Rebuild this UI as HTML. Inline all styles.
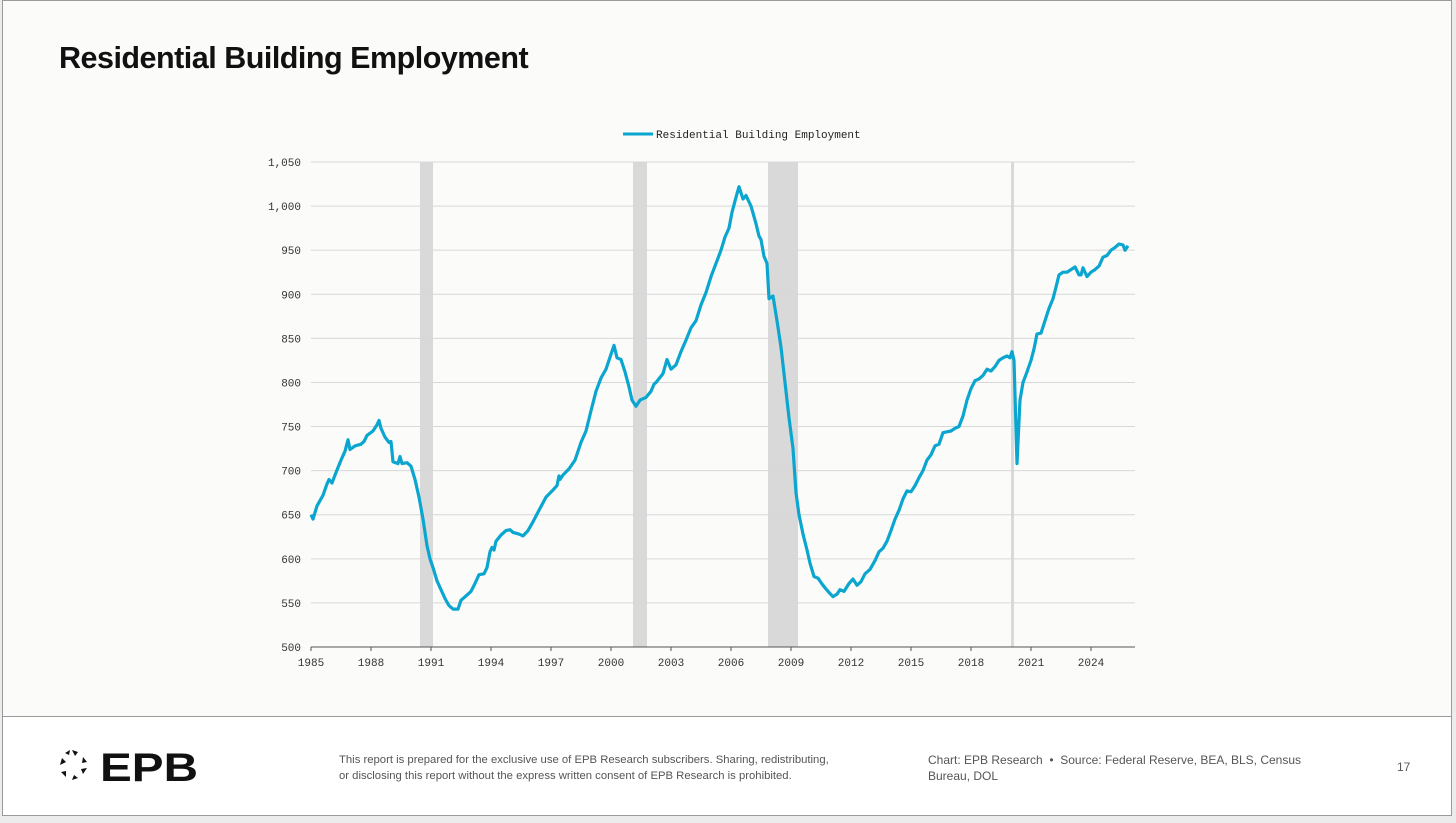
<!DOCTYPE html>
<html><head><meta charset="utf-8"><style>
html,body{margin:0;padding:0;background:#ececec;width:1456px;height:823px;overflow:hidden;font-family:"Liberation Sans",sans-serif}
#slide{position:absolute;left:2px;top:0;width:1450px;height:816px;background:#fbfbf9;border:1px solid #9a9a9a;box-sizing:border-box;overflow:hidden}
#footer{position:absolute;left:0;top:715px;width:100%;height:99px;background:#fff;border-top:1px solid #9a9a9a}
h1{position:absolute;left:56px;top:40px;margin:0;font-size:30.5px;font-weight:bold;color:#111;letter-spacing:-0.5px}
.ft{position:absolute;font-size:12px;color:#555;line-height:16px}
</style></head><body>
<div id="slide">
<h1>Residential Building Employment</h1>
<svg id="chart" width="1450" height="700" style="position:absolute;left:-2px;top:0"></svg>
<div id="footer">
 <svg style="position:absolute;left:53px;top:30px" width="150" height="40">
  <g fill="#111">
   <polygon points="16,3 22,5 19,9"/><polygon points="27,10 31,15 26,16"/><polygon points="31,21 27,27 25,22"/>
   <polygon points="22,31 16,33 18,28"/><polygon points="10,30 5,25 10,24"/><polygon points="4,18 6,11 10,15"/>
   <polygon points="9,6 14,3 13,8"/>
  </g>
  <text x="44" y="34" font-family="Liberation Sans" font-weight="bold" font-size="40" fill="#111" textLength="98" lengthAdjust="spacingAndGlyphs">EPB</text>
 </svg>
 <div class="ft" style="left:336px;top:35px;white-space:nowrap;font-size:11.3px">This report is prepared for the exclusive use of EPB Research subscribers. Sharing, redistributing,<br>or disclosing this report without the express written consent of EPB Research is prohibited.</div>
 <div class="ft" style="left:925px;top:35px;width:400px">Chart: EPB Research &nbsp;•&nbsp; Source: Federal Reserve, BEA, BLS, Census Bureau, DOL</div>
 <div class="ft" style="left:1394px;top:42px">17</div>
</div>
</div>
<script>
const yTicks=[500,550,600,650,700,750,800,850,900,950,1000,1050];
const yTickLabels=["500","550","600","650","700","750","800","850","900","950","1,000","1,050"];
const xTicks=[1985,1988,1991,1994,1997,2000,2003,2006,2009,2012,2015,2018,2021,2024];
const recessionStarts=[1990.45,2001.1,2007.85,2020.0];
const recessionEnds=[1991.1,2001.8,2009.35,2020.15];
const years=[1985,1985.1,1985.3,1985.6,1985.8,1985.9,1986.05,1986.2,1986.5,1986.7,1986.85,1986.95,1987.2,1987.5,1987.65,1987.8,1988.1,1988.3,1988.4,1988.5,1988.7,1988.9,1989,1989.1,1989.35,1989.45,1989.55,1989.8,1990,1990.2,1990.4,1990.6,1990.8,1990.95,1991.1,1991.3,1991.5,1991.7,1991.9,1992.1,1992.35,1992.5,1992.75,1993,1993.2,1993.4,1993.65,1993.8,1993.95,1994.05,1994.15,1994.25,1994.5,1994.75,1994.95,1995.1,1995.4,1995.6,1995.85,1996.1,1996.4,1996.75,1997.1,1997.3,1997.4,1997.45,1997.6,1997.9,1998.2,1998.5,1998.75,1999,1999.25,1999.5,1999.75,2000,2000.15,2000.3,2000.5,2000.7,2000.9,2001.05,2001.25,2001.45,2001.75,2002,2002.15,2002.25,2002.6,2002.8,2003,2003.25,2003.5,2003.75,2004,2004.25,2004.5,2004.75,2005,2005.25,2005.5,2005.7,2005.9,2006.05,2006.25,2006.4,2006.6,2006.75,2007,2007.25,2007.4,2007.5,2007.65,2007.8,2007.9,2008.1,2008.3,2008.5,2008.7,2008.9,2009.1,2009.25,2009.4,2009.6,2009.8,2009.95,2010.15,2010.35,2010.6,2010.85,2011.1,2011.3,2011.45,2011.65,2011.9,2012.1,2012.3,2012.5,2012.7,2012.95,2013.2,2013.4,2013.6,2013.8,2014,2014.2,2014.4,2014.6,2014.8,2015,2015.2,2015.4,2015.6,2015.8,2016,2016.2,2016.4,2016.6,2016.8,2017,2017.2,2017.4,2017.6,2017.8,2018,2018.2,2018.4,2018.6,2018.8,2019,2019.2,2019.4,2019.6,2019.8,2019.95,2020.05,2020.15,2020.3,2020.45,2020.6,2020.8,2021,2021.15,2021.3,2021.5,2021.7,2021.9,2022.1,2022.25,2022.4,2022.6,2022.8,2023,2023.2,2023.4,2023.5,2023.6,2023.8,2024,2024.2,2024.4,2024.6,2024.8,2025,2025.2,2025.4,2025.6,2025.7,2025.85];
const values=[650,645,660,672,685,690,686,695,712,722,735,724,728,730,733,740,745,752,757,748,738,732,733,710,708,716,708,709,705,690,670,645,615,600,590,575,565,555,547,543,543,553,558,563,572,582,583,590,608,613,610,620,627,632,633,630,628,626,632,642,655,670,678,683,694,690,695,702,712,732,745,768,790,805,815,832,842,828,826,812,795,780,773,780,783,790,798,800,810,826,815,820,835,848,862,870,888,902,920,935,950,965,975,993,1010,1022,1008,1012,1000,980,966,962,943,935,895,898,870,840,800,760,725,675,650,628,610,595,580,578,570,563,557,560,565,563,572,577,570,574,583,588,598,608,612,620,632,645,655,668,677,676,683,692,700,712,718,728,730,743,744,745,748,750,762,780,793,802,804,808,815,813,818,825,828,830,828,835,825,708,780,800,812,825,838,855,856,870,884,895,908,922,925,925,928,931,922,922,930,920,925,928,932,942,944,950,953,957,956,950,955,952];

const svg=document.getElementById('chart');
const NS='http://www.w3.org/2000/svg';
const X0=310,X1=1134,Y0=646,Y1=161;
function xs(v){return X0+(v-1985)*20;}
function ys(v){return Y0-(v-500)*(Y0-Y1)/550;}
function mk(tag,attrs){const e=document.createElementNS(NS,tag);for(const k in attrs)e.setAttribute(k,attrs[k]);svg.appendChild(e);return e;}
for(let i=0;i<recessionStarts.length;i++){
 const r=mk('rect',{x:xs(recessionStarts[i]),y:Y1,width:Math.max(3,xs(recessionEnds[i])-xs(recessionStarts[i])),height:Y0-Y1,fill:'#d9d9d9'});
 
 
}
yTicks.forEach((t,i)=>{
 const l=mk('line',{x1:X0,x2:X1,y1:ys(t),y2:ys(t),stroke:i===0?'#555':'#d8d8d8','stroke-width':1});
 
 
 const tx=mk('text',{x:300,y:ys(t)+4,'text-anchor':'end','font-family':'Liberation Mono, monospace','font-size':11,fill:'#333'});
 tx.textContent=yTickLabels[i];
 
 
});
xTicks.forEach(t=>{
 const l=mk('line',{x1:xs(t),x2:xs(t),y1:Y0,y2:Y0+4,stroke:'#555'});
 
 
 const tx=mk('text',{x:xs(t),y:Y0+19,'text-anchor':'middle','font-family':'Liberation Mono, monospace','font-size':11,fill:'#333'});
 tx.textContent=String(t);
 
 
});
const d=years.map((y,i)=>(i?'L':'M')+xs(y).toFixed(1)+','+ys(values[i]).toFixed(1)).join(' ');
const p=mk('path',{d:d,fill:'none',stroke:'#0aa6cf','stroke-width':3.2,'stroke-linejoin':'round'});


const ll=mk('line',{x1:622,x2:652,y1:133,y2:133,stroke:'#0aa6cf','stroke-width':3});


const lt=mk('text',{x:655,y:137,'font-family':'Liberation Mono, monospace','font-size':11,fill:'#222'});
lt.textContent='Residential Building Employment';


</script>
</body></html>
